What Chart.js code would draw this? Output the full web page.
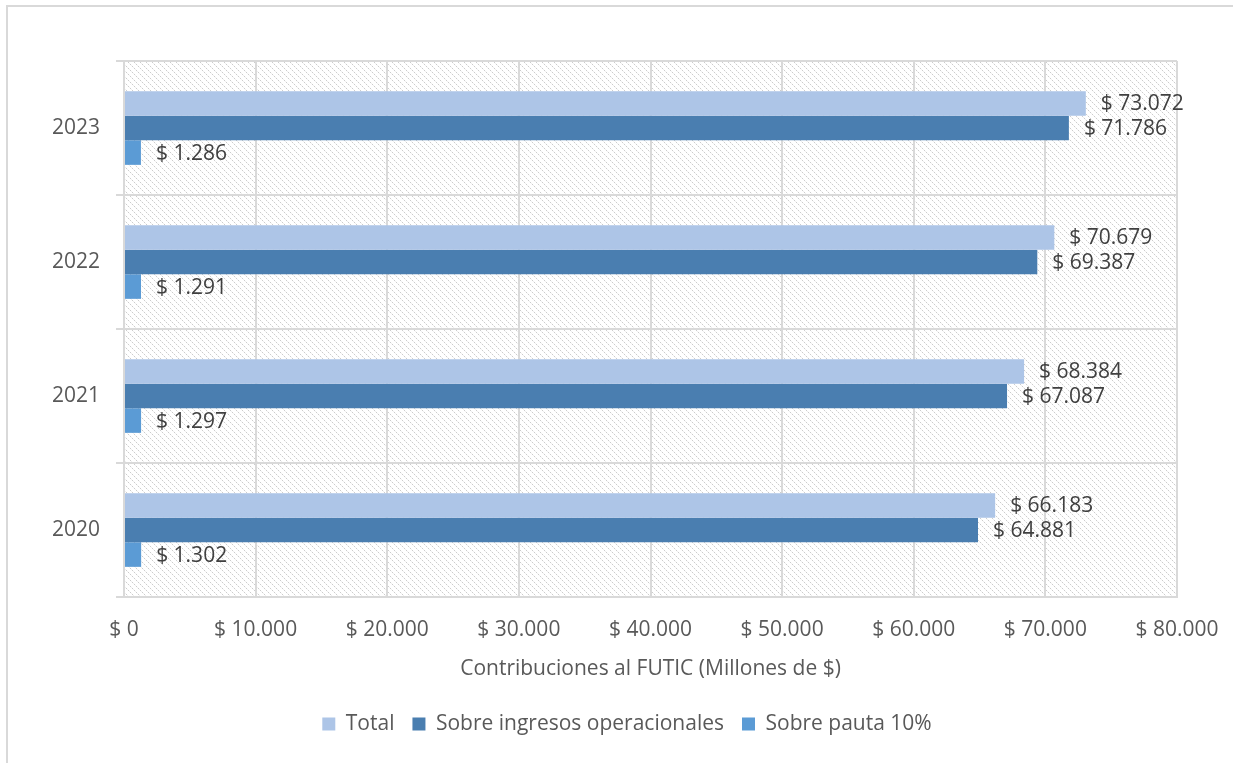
<!DOCTYPE html>
<html>
<head>
<meta charset="utf-8">
<script src="https://cdn.jsdelivr.net/npm/chart.js@4.4.0/dist/chart.umd.min.js"></script>
<style>
html,body{margin:0;padding:0;background:#fff;}
#wrap{width:1233px;height:763px;position:relative;}
</style>
</head>
<body>
<div id="wrap"><canvas id="c" width="1233" height="763"></canvas></div>
<script>
// ---- data ----
const categories = ['2023', '2022', '2021', '2020'];
const seriesNames = ['Total', 'Sobre ingresos operacionales', 'Sobre pauta 10%'];
const totalValues = [73072, 70679, 68384, 66183];
const ingresosValues = [71786, 69387, 67087, 64881];
const pautaValues = [1286, 1291, 1297, 1302];
const xMin = 0, xMax = 80000, xStep = 10000;
const axisTitle = 'Contribuciones al FUTIC (Millones de $)';

// ---- styles ----
const seriesColors = ['#adc5e7', '#4a7eb0', '#5b9bd5'];
const FONT = '"Open Sans"';
const FS = 21;
const gridColor = '#d9d9d9';
const textColor = '#595959';
const labelColor = '#404040';

function fmt(v) {
  const s = Math.round(v).toString().replace(/\B(?=(\d{3})+(?!\d))/g, '.');
  return '$ ' + s;
}

function makePattern() {
  const t = document.createElement('canvas');
  t.width = 6; t.height = 6;
  const g = t.getContext('2d');
  g.fillStyle = '#ffffff';
  g.fillRect(0, 0, 6, 6);
  g.fillStyle = '#cccccc';
  for (let i = 0; i < 6; i += 2) g.fillRect(i, i, 1, 1);
  g.fillStyle = '#efefef';
  for (let i = 1; i < 6; i += 2) g.fillRect(i, i, 1, 1);
  return t;
}

const bgPlugin = {
  id: 'bg',
  afterLayout(chart) {
    const lg = chart.legend;
    if (lg) { lg.left += 38.5; lg.right += 38.5; }
  },
  beforeDraw(chart) {
    const ctx = chart.ctx, a = chart.chartArea;
    ctx.save();
    ctx.fillStyle = '#ffffff';
    ctx.fillRect(0, 0, chart.width, chart.height);
    ctx.fillStyle = ctx.createPattern(makePattern(), 'repeat');
    ctx.fillRect(a.left, a.top, a.right - a.left, a.bottom - a.top);
    ctx.restore();
  },
  afterDraw(chart) {
    const ctx = chart.ctx;
    ctx.save();
    ctx.strokeStyle = gridColor;
    ctx.lineWidth = 2;
    ctx.beginPath();
    ctx.moveTo(7, chart.height);
    ctx.lineTo(7, 6);
    ctx.lineTo(chart.width, 6);
    ctx.stroke();
    ctx.restore();
  }
};

const labelPlugin = {
  id: 'vlabels',
  afterDatasetsDraw(chart) {
    const ctx = chart.ctx;
    ctx.save();
    ctx.font = FS + 'px ' + FONT;
    ctx.fillStyle = labelColor;
    ctx.textAlign = 'left';
    ctx.textBaseline = 'middle';
    chart.data.datasets.forEach((ds, di) => {
      const meta = chart.getDatasetMeta(di);
      meta.data.forEach((el, i) => {
        ctx.fillText(fmt(ds.data[i]), el.x + 15, el.y + 1);
      });
    });
    ctx.restore();
  }
};

const seriesData = [totalValues, ingresosValues, pautaValues];

new Chart(document.getElementById('c'), {
  type: 'bar',
  data: {
    labels: categories,
    datasets: seriesNames.map((n, i) => ({
      label: n,
      data: seriesData[i],
      backgroundColor: seriesColors[i],
      borderWidth: 0,
      barPercentage: 1.0,
      categoryPercentage: 0.55
    }))
  },
  options: {
    indexAxis: 'y',
    responsive: false,
    animation: false,
    devicePixelRatio: 1,
    layout: { padding: { left: 0, right: 56, top: 61, bottom: 18.5 } },
    plugins: {
      tooltip: { enabled: false },
      legend: {
        position: 'bottom',
        labels: {
          boxWidth: 13, boxHeight: 13, padding: 18,
          color: textColor,
          font: { family: FONT, size: FS }
        }
      }
    },
    scales: {
      x: {
        min: xMin, max: xMax,
        ticks: {
          stepSize: xStep,
          color: textColor,
          padding: 20,
          maxRotation: 0,
          font: { family: FONT, size: FS },
          callback: (v) => fmt(v)
        },
        grid: { color: gridColor, lineWidth: 2, drawTicks: false },
        border: { color: gridColor, width: 2 },
        title: {
          display: true, text: axisTitle, color: textColor,
          font: { family: FONT, size: FS },
          padding: { top: 0, bottom: 14 }
        },
        afterFit(s) { s.height = 98.5; s.paddingRight = 0; s.paddingLeft = 0; }
      },
      y: {
        ticks: {
          color: textColor, padding: 16,
          font: { family: FONT, size: FS }
        },
        grid: { color: gridColor, lineWidth: 2, offset: true, drawTicks: true, tickLength: 8 },
        border: { color: gridColor, width: 2 },
        afterFit(s) { s.width = 124; }
      }
    }
  },
  plugins: [bgPlugin, labelPlugin]
});
</script>
</body>
</html>
